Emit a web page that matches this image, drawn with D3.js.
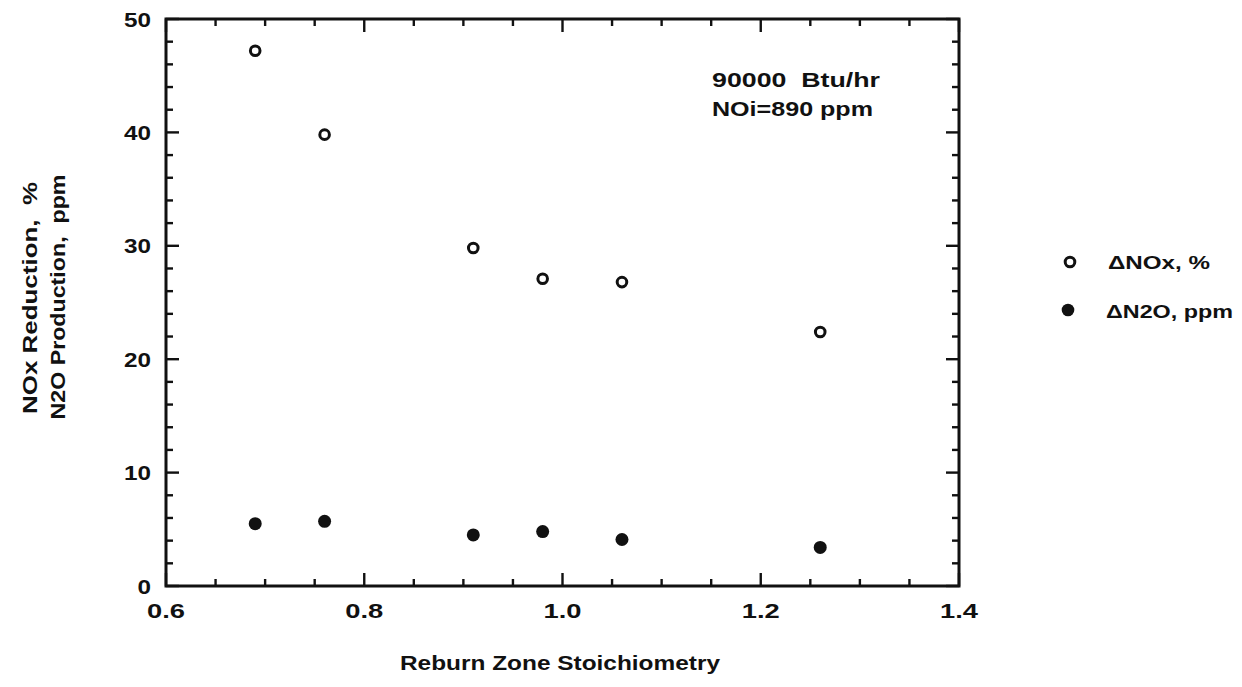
<!DOCTYPE html>
<html><head><meta charset="utf-8">
<script src="https://cdn.jsdelivr.net/npm/d3@7"></script>
<style>
body{margin:0;background:#fff;}
text{font-family:"Liberation Sans",Arial,Helvetica,sans-serif;fill:#111;font-weight:bold;}
</style></head>
<body>
<svg id="c" width="1242" height="687"></svg>
<script>
const stoich = [0.69, 0.76, 0.91, 0.98, 1.06, 1.26];
const noxReduction = [47.2, 39.8, 29.8, 27.1, 26.8, 22.4];
const n2oProduction = [5.5, 5.7, 4.5, 4.8, 4.1, 3.4];
const xTicks = [0.6, 0.8, 1.0, 1.2, 1.4];
const yTicks = [0, 10, 20, 30, 40, 50];
const seriesNames = ["\u0394NOx, %", "\u0394N2O, ppm"];
const annotation = ["90000  Btu/hr", "NOi=890 ppm"];
const xTitle = "Reburn Zone Stoichiometry";
const yTitle = ["NOx Reduction,  %", "N2O Production,  ppm"];

const svg = d3.select("#c");
const L = 166, R = 959, T = 19, B = 586;
const x = d3.scaleLinear().domain([0.6, 1.4]).range([L, R]);
const y = d3.scaleLinear().domain([0, 50]).range([B, T]);

function txt(parent, s, opts) {
  const t = parent.append("text").attr("x", opts.x).attr("y", opts.y)
    .attr("font-size", opts.size).attr("xml:space", "preserve").text(s);
  if (opts.anchor) t.attr("text-anchor", opts.anchor);
  if (opts.len) t.attr("textLength", opts.len).attr("lengthAdjust", "spacingAndGlyphs");
  if (opts.transform) t.attr("transform", opts.transform);
  return t;
}

const g = svg.append("g");
const xMinor = d3.range(0, 17).map(i => +(0.6 + i * 0.05).toFixed(2));
const yMinor = d3.range(0, 26).map(i => i * 2);
const tk = g.append("g").attr("stroke", "#111").attr("stroke-width", 2.4);
xMinor.forEach(v => {
  const major = xTicks.some(t => Math.abs(t - v) < 1e-6);
  const len = major ? 13 : 7;
  tk.append("line").attr("x1", x(v)).attr("x2", x(v)).attr("y1", B).attr("y2", B - len);
  tk.append("line").attr("x1", x(v)).attr("x2", x(v)).attr("y1", T).attr("y2", T + len);
});
yMinor.forEach(v => {
  const major = yTicks.includes(v);
  const len = major ? 13 : 7;
  tk.append("line").attr("x1", L).attr("x2", L + len).attr("y1", y(v)).attr("y2", y(v));
  tk.append("line").attr("x1", R).attr("x2", R - len).attr("y1", y(v)).attr("y2", y(v));
});
g.append("rect").attr("x", L).attr("y", T).attr("width", R - L).attr("height", B - T)
  .attr("fill", "none").attr("stroke", "#111").attr("stroke-width", 3);

// tick labels
xTicks.forEach(d => txt(g, d.toFixed(1), {x: x(d), y: 618, size: 20, anchor: "middle", len: 38}));
yTicks.forEach(d => {
  const s = String(d);
  txt(g, s, {x: 151, y: y(d) + 7.5, size: 20, anchor: "end", len: s.length * 13.5});
});

// axis titles
txt(svg, xTitle, {x: 560, y: 670, size: 20, anchor: "middle", len: 320});
txt(svg, yTitle[0], {x: 0, y: 0, size: 20, anchor: "middle", len: 232, transform: "translate(37,298) rotate(-90)"});
txt(svg, yTitle[1], {x: 0, y: 0, size: 20, anchor: "middle", len: 245, transform: "translate(65,297) rotate(-90)"});

// annotation
txt(svg, annotation[0], {x: 712, y: 87, size: 21, len: 168});
txt(svg, annotation[1], {x: 712, y: 116, size: 21, len: 161});

// points
svg.selectAll(".nox").data(stoich).enter().append("circle")
  .attr("cx", d => x(d)).attr("cy", (d, i) => y(noxReduction[i])).attr("r", 4.8)
  .attr("fill", "none").attr("stroke", "#111").attr("stroke-width", 3);
svg.selectAll(".n2o").data(stoich).enter().append("circle")
  .attr("cx", d => x(d)).attr("cy", (d, i) => y(n2oProduction[i])).attr("r", 6.5)
  .attr("fill", "#111");

// legend
svg.append("circle").attr("cx", 1070).attr("cy", 262).attr("r", 4.8).attr("fill", "none").attr("stroke", "#111").attr("stroke-width", 3);
svg.append("circle").attr("cx", 1068).attr("cy", 310).attr("r", 6.3).attr("fill", "#111");
txt(svg, seriesNames[0], {x: 1108, y: 269, size: 18, len: 102});
txt(svg, seriesNames[1], {x: 1106, y: 318, size: 18, len: 127});
</script>
</body></html>
